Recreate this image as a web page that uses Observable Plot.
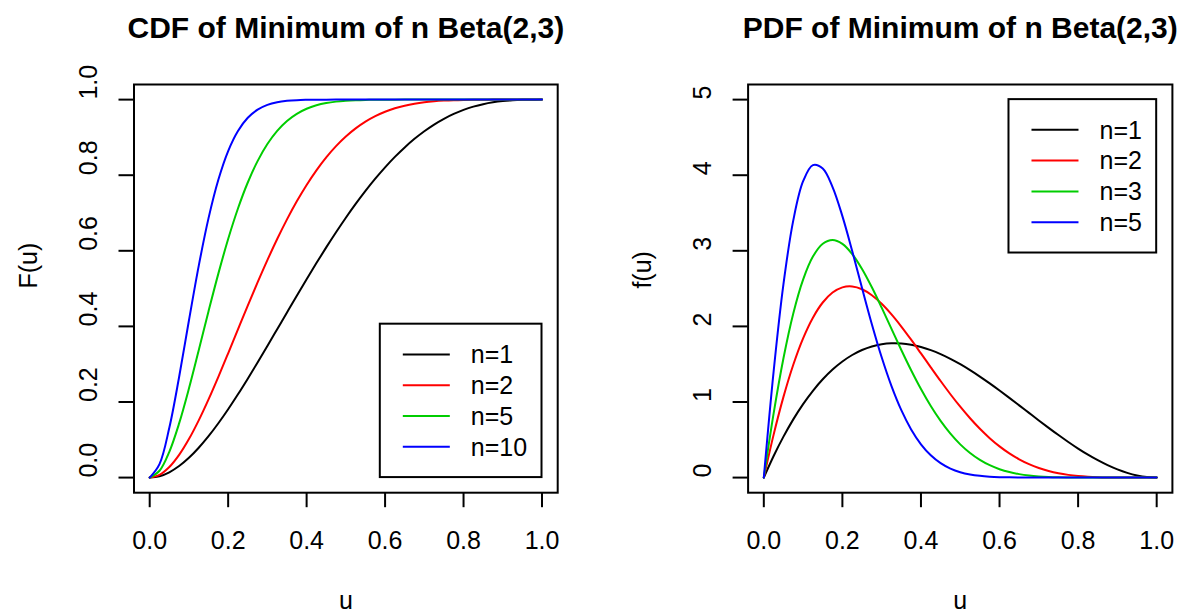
<!DOCTYPE html>
<html>
<head>
<meta charset="utf-8">
<script src="https://cdn.jsdelivr.net/npm/d3@7"></script>
<script src="https://cdn.jsdelivr.net/npm/@observablehq/plot@0.6"></script>
<style>
  html, body { margin: 0; padding: 0; background: #fff; }
  #chart { display: flex; width: 1180px; height: 613px; overflow: hidden; }
  #chart svg { display: block; }
</style>
</head>
<body>
<div id="chart"></div>
<script>
// ---- data ----
const u = [0,0.025,0.05,0.075,0.1,0.125,0.15,0.175,0.2,0.225,0.25,0.275,0.3,0.325,0.35,0.375,0.4,0.425,0.45,0.475,0.5,0.525,0.55,0.575,0.6,0.625,0.65,0.675,0.7,0.725,0.75,0.775,0.8,0.825,0.85,0.875,0.9,0.925,0.95,0.975,1];

// CDF panel series
const cdfN1 = [0,0.0036,0.0140,0.0305,0.0523,0.0789,0.1095,0.1437,0.1808,0.2203,0.2617,0.3045,0.3483,0.3926,0.4370,0.4812,0.5248,0.5675,0.6090,0.6491,0.6875,0.7240,0.7585,0.7908,0.8208,0.8484,0.8735,0.8962,0.9163,0.9340,0.9492,0.9621,0.9728,0.9814,0.9880,0.9929,0.9963,0.9984,0.9995,0.9999,1];
const cdfN2 = [0,0.0072,0.0278,0.0600,0.1019,0.1515,0.2070,0.2667,0.3289,0.3921,0.4549,0.5163,0.5753,0.6311,0.6831,0.7308,0.7742,0.8129,0.8471,0.8769,0.9023,0.9238,0.9417,0.9562,0.9679,0.9770,0.9840,0.9892,0.9930,0.9956,0.9974,0.9986,0.9993,0.9997,0.9999,1,1,1,1,1,1];
const cdfN5 = [0,0.0180,0.0682,0.1433,0.2355,0.3368,0.4401,0.5396,0.6311,0.7119,0.7807,0.8373,0.8824,0.9173,0.9434,0.9624,0.9758,0.9849,0.9909,0.9947,0.9970,0.9984,0.9992,0.9996,0.9998,0.9999,1,1,1,1,1,1,1,1,1,1,1,1,1,1,1];
const cdfN10 = [0,0.0357,0.1317,0.2661,0.4156,0.5602,0.6865,0.7880,0.8639,0.9170,0.9519,0.9735,0.9862,0.9932,0.9968,0.9986,0.9994,0.9998,0.9999,1,1,1,1,1,1,1,1,1,1,1,1,1,1,1,1,1,1,1,1,1,1];

// PDF panel series
const pdfN1 = [0,0.2852,0.5415,0.7701,0.9720,1.1484,1.3005,1.4293,1.5360,1.6217,1.6875,1.7346,1.7640,1.7769,1.7745,1.7578,1.7280,1.6862,1.6335,1.5711,1.5000,1.4214,1.3365,1.2463,1.1520,1.0547,0.9555,0.8556,0.7560,0.6579,0.5625,0.4708,0.3840,0.3032,0.2295,0.1641,0.1080,0.0624,0.0285,0.0073,0];
const pdfN2 = [0,0.5683,1.0678,1.4932,1.8423,2.1157,2.3161,2.4479,2.5166,2.5288,2.4917,2.4127,2.2992,2.1586,1.9980,1.8239,1.6423,1.4586,1.2773,1.1026,0.9375,0.7845,0.6455,0.5214,0.4129,0.3198,0.2417,0.1777,0.1266,0.0869,0.0571,0.0357,0.0209,0.0113,0.0055,0.0023,0.0008,0.0002,0,0,0];
const pdfN3 = [0,0.8494,1.5793,2.1716,2.6190,2.9234,3.0937,3.1442,3.0924,2.9576,2.7594,2.5169,2.2476,1.9668,1.6873,1.4194,1.1706,0.9462,0.7491,0.5804,0.4395,0.3248,0.2338,0.1636,0.1110,0.0727,0.0459,0.0277,0.0159,0.0086,0.0044,0.0020,0.0009,0.0003,0.0001,0,0,0,0,0,0];
const pdfN5 = [0,1.4054,2.5588,3.4021,3.9203,4.1341,4.0886,3.8426,3.4588,2.9965,2.5067,2.0289,1.5910,1.2094,0.8913,0.6367,0.4406,0.2950,0.1909,0.1191,0.0715,0.0412,0.0227,0.0119,0.0059,0.0028,0.0012,0.0005,0.0002,0.0001,0,0,0,0,0,0,0,0,0,0,0];

// ticks and labels
const xTicks = [0, 0.2, 0.4, 0.6, 0.8, 1];
const xTickLabels = ["0.0", "0.2", "0.4", "0.6", "0.8", "1.0"];
const cdfTicks = [0, 0.2, 0.4, 0.6, 0.8, 1];
const cdfTickLabels = ["0.0", "0.2", "0.4", "0.6", "0.8", "1.0"];
const pdfTicks = [0, 1, 2, 3, 4, 5];
const pdfTickLabels = ["0", "1", "2", "3", "4", "5"];

const cdfLabels = ["n=1", "n=2", "n=5", "n=10"];
const pdfLabels = ["n=1", "n=2", "n=3", "n=5"];
const seriesColors = ["#000000", "#FF0000", "#00CD00", "#0000FF"];

const FONT = '"Liberation Sans", Arial, Helvetica, sans-serif';

function legendMark(cfg) {
  return (index, scales, values, dims) => {
    const iw = dims.width - dims.marginLeft - dims.marginRight;
    const ih = dims.height - dims.marginTop - dims.marginBottom;
    const sx = (scales && typeof scales.x === "function") ? scales.x
      : (v => dims.marginLeft + (v - cfg.xDomain[0]) / (cfg.xDomain[1] - cfg.xDomain[0]) * iw);
    const sy = (scales && typeof scales.y === "function") ? scales.y
      : (v => dims.marginTop + (cfg.yDomain[1] - v) / (cfg.yDomain[1] - cfg.yDomain[0]) * ih);
    const px = sx(cfg.anchorX), py = sy(cfg.anchorY);
    const left = px - cfg.boxW;
    const top = cfg.corner === "bottomright" ? py - cfg.boxH : py;
    const g = d3.create("svg:g").attr("text-anchor", "start");
    g.append("rect")
      .attr("x", left).attr("y", top)
      .attr("width", cfg.boxW).attr("height", cfg.boxH)
      .attr("fill", "white").attr("stroke", "black").attr("stroke-width", 2);
    cfg.labels.forEach((lab, k) => {
      const yy = top + 30.7 + k * 30.8;
      g.append("line")
        .attr("x1", left + 23).attr("x2", left + 70)
        .attr("y1", yy).attr("y2", yy)
        .attr("stroke", cfg.colors[k]).attr("stroke-width", 2);
      g.append("text")
        .attr("x", left + 91).attr("y", yy).attr("dy", "0.35em")
        .attr("text-anchor", "start")
        .attr("font-family", FONT).attr("font-size", 25).attr("fill", "black")
        .text(lab);
    });
    return g.node();
  };
}

function panel(cfg) {
  const xDomain = [-0.04, 1.04];
  const marks = [
    Plot.frame({stroke: "black", strokeWidth: 2}),
    Plot.axisX({ticks: xTicks, tickSize: 15, tickFormat: () => "", label: null, stroke: "black", strokeWidth: 2}),
    Plot.axisY({ticks: cfg.yTicks, tickSize: 15, tickFormat: () => "", label: null, stroke: "black", strokeWidth: 2}),
    Plot.text(xTicks, {x: d => d, text: (d, i) => xTickLabels[i], frameAnchor: "bottom", dy: 47.8,
      lineAnchor: "middle", fontSize: 25, fill: "black", fontFamily: FONT}),
    Plot.text(cfg.yTicks, {y: d => d, text: (d, i) => cfg.yTickLabels[i], frameAnchor: "left", dx: -45.5,
      rotate: -90, lineAnchor: "middle", fontSize: 25, fill: "black", fontFamily: FONT}),
    Plot.text([cfg.title], {text: d => d, frameAnchor: "top", dy: -56.6, lineAnchor: "middle",
      fontSize: 30, fontWeight: "bold", fill: "black", fontFamily: FONT}),
    Plot.text(["u"], {text: d => d, frameAnchor: "bottom", dy: 108, lineAnchor: "middle",
      fontSize: 25, fill: "black", fontFamily: FONT}),
    Plot.text([cfg.ylabel], {text: d => d, frameAnchor: "left", dx: -105.5, rotate: -90, lineAnchor: "middle",
      fontSize: 25, fill: "black", fontFamily: FONT})
  ];
  cfg.series.forEach((vals, k) => {
    const rows = u.map((x, i) => ({u: x, v: vals[i]}));
    marks.push(Plot.line(rows, {x: "u", y: "v", stroke: seriesColors[k], strokeWidth: 2, curve: "catmull-rom"}));
  });
  marks.push(legendMark({
    xDomain, yDomain: cfg.yDomain, anchorX: 1, anchorY: cfg.legendY, corner: cfg.corner,
    boxW: cfg.legendW, boxH: 153.4, labels: cfg.labels, colors: seriesColors
  }));
  return Plot.plot({
    width: 590,
    height: 613,
    marginLeft: cfg.marginLeft,
    marginRight: cfg.marginRight,
    marginTop: 84,
    marginBottom: 120.8,
    x: {domain: xDomain},
    y: {domain: cfg.yDomain},
    style: {fontFamily: FONT, background: "white", color: "black", overflow: "visible"},
    marks
  });
}

const chart = document.getElementById("chart");
chart.append(panel({
  title: "CDF of Minimum of n Beta(2,3)",
  ylabel: "F(u)",
  yDomain: [-0.04, 1.04],
  yTicks: cdfTicks,
  yTickLabels: cdfTickLabels,
  series: [cdfN1, cdfN2, cdfN5, cdfN10],
  labels: cdfLabels,
  legendY: 0,
  corner: "bottomright",
  legendW: 161.7,
  marginLeft: 133.5,
  marginRight: 32.8
}));
chart.append(panel({
  title: "PDF of Minimum of n Beta(2,3)",
  ylabel: "f(u)",
  yDomain: [-0.2, 5.2],
  yTicks: pdfTicks,
  yTickLabels: pdfTickLabels,
  series: [pdfN1, pdfN2, pdfN3, pdfN5],
  labels: pdfLabels,
  legendY: 5,
  corner: "topright",
  legendW: 147.7,
  marginLeft: 157.6,
  marginRight: 8.1
}));
</script>
</body>
</html>
